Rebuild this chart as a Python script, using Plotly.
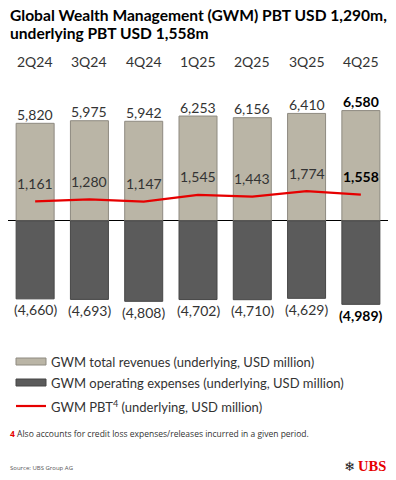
import plotly.graph_objects as go

categories = ["2Q24", "3Q24", "4Q24", "1Q25", "2Q25", "3Q25", "4Q25"]
revenues = [5820, 5975, 5942, 6253, 6156, 6410, 6580]
expenses = [-4660, -4693, -4808, -4702, -4710, -4629, -4989]
pbt = [1161, 1280, 1147, 1545, 1443, 1774, 1558]

W, H = 396, 480
ML, MR = 8, 8
FONT = "Lato"
TXT = "#333333"

def px(x):
    return (x - ML) / (W - ML - MR)

def py(y):
    return 1 - y / H

fig = go.Figure()
fig.add_trace(go.Bar(x=categories, y=revenues, width=0.7,
                     marker=dict(color="#bab5a6", line=dict(color="#8e8a80", width=1)),
                     name="GWM total revenues (underlying, USD million)", showlegend=False,
                     hoverinfo="skip"))
fig.add_trace(go.Bar(x=categories, y=expenses, width=0.7,
                     marker=dict(color="#5b5b5b", line=dict(color="#474747", width=1)),
                     name="GWM operating expenses (underlying, USD million)", showlegend=False,
                     hoverinfo="skip"))
fig.add_trace(go.Scatter(x=categories, y=pbt, mode="lines",
                         line=dict(color="#e60000", width=2.2),
                         name="GWM PBT (underlying, USD million)", showlegend=False,
                         hoverinfo="skip"))

ann = []
last = len(categories) - 1
for i, c in enumerate(categories):
    b = (lambda s: f"<b>{s}</b>") if i == last else (lambda s: s)
    ann.append(dict(x=c, y=revenues[i], xref="x", yref="y", text=b(f"{revenues[i]:,}"),
                    showarrow=False, yanchor="middle", yshift=9,
                    font=dict(size=14, color=TXT if i != last else "#000", family=FONT)))
    ann.append(dict(x=c, y=expenses[i], xref="x", yref="y", text=b(f"({-expenses[i]:,})"),
                    showarrow=False, yanchor="middle", yshift=-11,
                    font=dict(size=14, color=TXT if i != last else "#000", family=FONT)))
    ann.append(dict(x=c, y=pbt[i], xref="x", yref="y", text=b(f"{pbt[i]:,}"),
                    showarrow=False, yanchor="middle", yshift=18,
                    font=dict(size=14, color=TXT if i != last else "#000", family=FONT)))
    ann.append(dict(x=c, y=py(61), xref="x", yref="paper", text=c,
                    showarrow=False, yanchor="middle",
                    font=dict(size=14, color=TXT, family=FONT)))

# title
ann.append(dict(x=0, y=py(15), xref="paper", yref="paper", xanchor="left", yanchor="middle",
                text="<b>Global Wealth Management (GWM) PBT USD 1,290m,</b>", showarrow=False,
                font=dict(size=15.6, color="#000", family=FONT)))
ann.append(dict(x=0, y=py(33), xref="paper", yref="paper", xanchor="left", yanchor="middle",
                text="<b>underlying PBT USD 1,558m</b>", showarrow=False,
                font=dict(size=15.6, color="#000", family=FONT)))

# legend
legend_items = [
    ("GWM total revenues (underlying, USD million)", 362),
    ("GWM operating expenses (underlying, USD million)", 383),
    ("GWM PBT<sup>4</sup> (underlying, USD million)", 406),
]
for text, yy in legend_items:
    ann.append(dict(x=px(49), y=py(yy), xref="paper", yref="paper", xanchor="left",
                    yanchor="middle", text=text, showarrow=False,
                    font=dict(size=13, color=TXT, family=FONT)))

shapes = [
    dict(type="rect", xref="paper", yref="paper", x0=px(16), x1=px(46), y0=py(365), y1=py(358),
         fillcolor="#bab5a6", line=dict(color="#8e8a80", width=1)),
    dict(type="rect", xref="paper", yref="paper", x0=px(16), x1=px(46), y0=py(386), y1=py(379),
         fillcolor="#5b5b5b", line=dict(color="#474747", width=1)),
    dict(type="line", xref="paper", yref="paper", x0=px(16), x1=px(46), y0=py(406), y1=py(406),
         line=dict(color="#e60000", width=2.2)),
]

# footnote
ann.append(dict(x=0, y=py(433), xref="paper", yref="paper", xanchor="left", yanchor="middle",
                text="<b><span style='color:#e60000'>4</span></b> Also accounts for credit loss expenses/releases incurred in a given period.",
                showarrow=False, font=dict(size=8.5, color=TXT, family="Open Sans")))
ann.append(dict(x=0, y=py(468), xref="paper", yref="paper", xanchor="left", yanchor="middle",
                text="Source: UBS Group AG", showarrow=False,
                font=dict(size=6, color="#555", family="Open Sans")))
# logo
ann.append(dict(x=1, y=py(466), xref="paper", yref="paper", xanchor="right", yanchor="middle",
                text="<b>UBS</b>", showarrow=False,
                font=dict(size=14.5, color="#e60000", family="Liberation Serif")))
ann.append(dict(x=px(349), y=py(466), xref="paper", yref="paper", xanchor="center", yanchor="middle",
                text="❄", showarrow=False,
                font=dict(size=13, color="#222", family="DejaVu Sans")))

s = 0.01675
zero_px = 220.8
fig.update_layout(
    width=W, height=H,
    margin=dict(l=ML, r=MR, t=0, b=0),
    paper_bgcolor="white", plot_bgcolor="white",
    barmode="relative",
    xaxis=dict(type="category", range=[-0.5, len(categories) - 0.5], showticklabels=False,
               showgrid=False, zeroline=False, showline=False, ticks=""),
    yaxis=dict(range=[-(H - zero_px) / s, zero_px / s], showticklabels=False, showgrid=False,
               zeroline=True, zerolinecolor="#000", zerolinewidth=1, showline=False, ticks=""),
    annotations=ann, shapes=shapes,
    showlegend=False,
)
fig.write_html("out.html", config={"displayModeBar": False},
               post_script="document.body.style.margin='0';document.body.style.overflow='hidden';")
